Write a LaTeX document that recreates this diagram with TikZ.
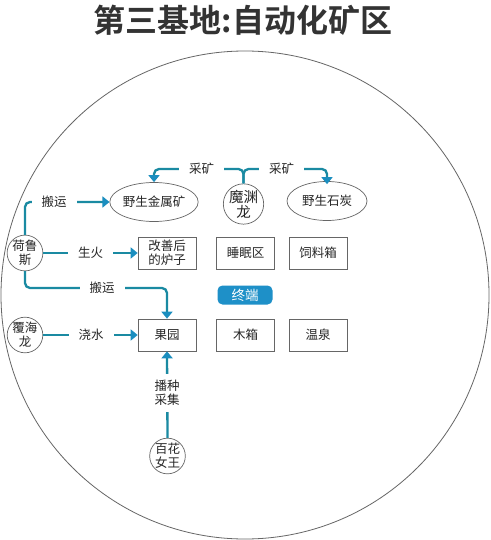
\documentclass[tikz,border=0pt]{standalone}
\usepackage{fontspec}
\setmainfont{Noto Sans CJK SC}[BoldFont={Noto Sans CJK SC Bold}]
\usetikzlibrary{arrows.meta,shapes.geometric}
\definecolor{lineteal}{HTML}{1A8AA2}
\definecolor{headblue}{HTML}{1B8EBF}
\definecolor{termblue}{HTML}{1E90C8}
\definecolor{edgegray}{HTML}{666666}
\definecolor{titlegray}{HTML}{333333}
\tikzset{
  every node/.style={font=\fontsize{12.5}{14}\selectfont, text=black!85},
  agent/.style={circle, draw=edgegray, line width=0.7pt, minimum size=35pt, inner sep=0pt, align=center},
  res/.style={ellipse, draw=edgegray, line width=0.7pt, minimum width=80pt, minimum height=39pt, inner sep=0pt},
  room/.style={rectangle, draw=edgegray, line width=0.7pt, minimum width=58pt, minimum height=32pt, inner sep=0pt, align=center},
  termbox/.style={rectangle, rounded corners=5pt, fill=termblue, text=white, minimum width=55pt, minimum height=19pt, inner sep=0pt, font=\fontsize{13.5}{14}\selectfont},
  conn/.style={draw=lineteal, line width=2.3pt, rounded corners=5pt},
  arr/.style={conn, -{Triangle[width=11pt,length=7pt,color=headblue,fill=headblue]}},
  lbl/.style={fill=white, inner xsep=10pt, inner ysep=2pt, align=center},
}
\begin{document}
\begin{tikzpicture}[x=1pt,y=-1pt]
\useasboundingbox (0,0) rectangle (490,540);
\fill[white] (0,0) rectangle (490,540);
% title
\node[font=\fontsize{32}{32}\selectfont\bfseries, text=titlegray] (title) at (243,20) {第三基地:自动化矿区};
% big boundary circle
\draw[edgegray, line width=0.8pt] (245,295) circle[radius=244];
% nodes
\node[agent] (he) at (25,253) {荷鲁\\斯};
\node[agent] (fu) at (25,335) {覆海\\龙};
\node[agent, minimum size=37pt, font=\fontsize{14.5}{15}\selectfont] (mo) at (243.5,204) {魔渊\\龙};
\node[agent] (bh) at (167.5,456) {百花\\女王};
\node[res] (ore) at (154,202) {野生金属矿};
\node[res] (coal) at (327,201) {野生石炭};
\node[room] (furnace) at (167,253) {改善后\\的炉子};
\node[room] (sleep) at (245.5,253) {睡眠区};
\node[room] (feed) at (318,253) {饲料箱};
\node[termbox] (term) at (245,295) {终端};
\node[room] (orchard) at (167,335) {果园};
\node[room] (wood) at (245.5,335) {木箱};
\node[room] (spring) at (318,335) {温泉};
% helper coordinates
\coordinate (cdown) at (167,288);
\coordinate (cl) at (154,169);
\coordinate (cr) at (327,169);
% connectors
\draw[arr] (he.north) |- (ore.west);
\draw[arr] (he.east) -- (furnace.west);
\draw[arr] (he.south) |- (cdown) -- (orchard.north);
\draw[arr] (fu.east) -- (orchard.west);
\draw[arr] (bh.north) -- (orchard.south);
\draw[arr] (mo.north) |- (cl) -- (ore.north);
\draw[arr] (mo.north) |- (cr) -- ([yshift=-3pt]coal.north);
% labels
\node[lbl] (l1) at (54,202) {搬运};
\node[lbl] (l2) at (90.5,253) {生火};
\node[lbl] (l3) at (102,288) {搬运};
\node[lbl] (l4) at (91,335) {浇水};
\node[lbl, inner ysep=6pt] (l5) at (167,393) {播种\\采集};
\node[lbl] (l6) at (201.5,169) {采矿};
\node[lbl] (l7) at (281.5,169) {采矿};
\end{tikzpicture}
\end{document}
